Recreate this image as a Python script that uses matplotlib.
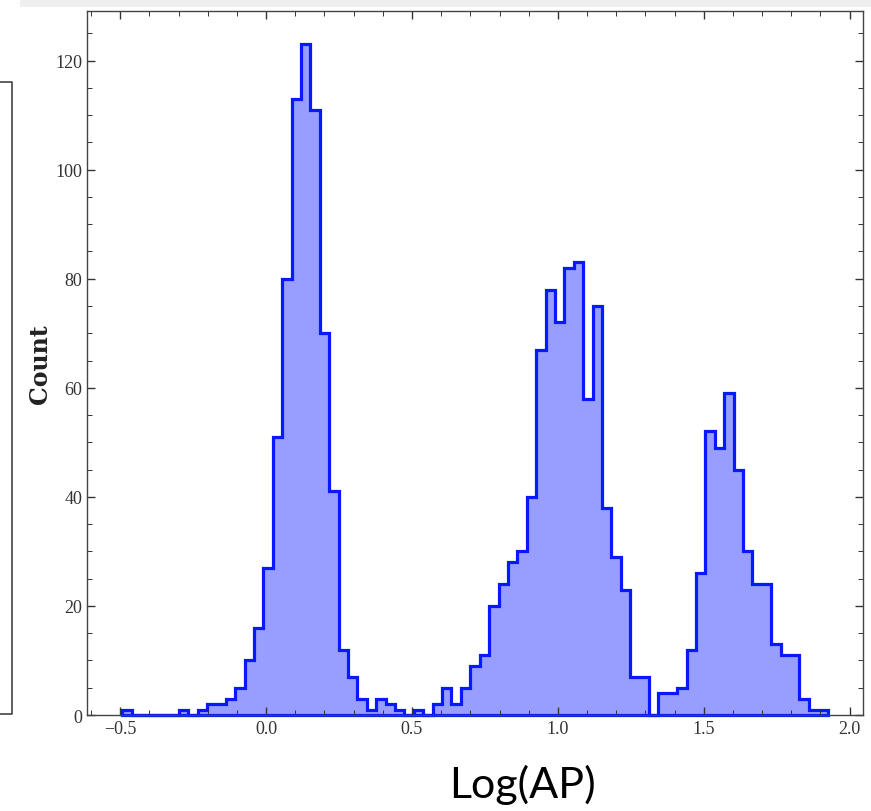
import numpy as np
import matplotlib.pyplot as plt
from matplotlib.ticker import MultipleLocator
from matplotlib.patches import Rectangle
from matplotlib.lines import Line2D

# histogram counts (75 equal bins)
counts = [1, 0, 0, 0, 0, 0, 1, 0, 1, 2,
          2, 3, 5, 10, 16, 27, 51, 80, 113, 123,
          111, 70, 41, 12, 7, 3, 1, 3, 2, 1,
          0, 1, 0, 2, 5, 2, 5, 9, 11, 20,
          24, 28, 30, 40, 67, 78, 72, 82, 83, 58,
          75, 38, 29, 23, 7, 7, 0, 4, 4, 5,
          12, 26, 52, 49, 59, 45, 30, 24, 24, 13,
          11, 11, 3, 1, 1]
bin_lo = -0.493
bin_hi = 1.925
n_bins = len(counts)
edges = np.linspace(bin_lo, bin_hi, n_bins + 1)
centers = (edges[:-1] + edges[1:]) / 2

xticks = [-0.5, 0.0, 0.5, 1.0, 1.5, 2.0]
yticks = [0, 20, 40, 60, 80, 100, 120]

fig = plt.figure(figsize=(8.71, 8.12), dpi=100)
ax = fig.add_axes([0.0999, 0.1182, 0.8909, 0.8674])

ax.hist(centers, bins=edges, weights=counts, histtype='stepfilled',
        facecolor='#989eff', edgecolor='#0818ff', linewidth=2.3, clip_on=False)

ax.set_xlim(-0.614, 2.046)
ax.set_ylim(0, 129.15)
ax.set_xticks(xticks)
ax.set_yticks(yticks)
ax.xaxis.set_minor_locator(MultipleLocator(0.1))
ax.yaxis.set_minor_locator(MultipleLocator(5))
ax.tick_params(which='both', direction='in', top=True, right=True, colors='#333333')
ax.tick_params(which='major', length=6, width=1.0, labelsize=13)
ax.tick_params(which='minor', length=3.5, width=0.7)
for lab in ax.get_xticklabels() + ax.get_yticklabels():
    lab.set_family('Liberation Serif')
for sp in ax.spines.values():
    sp.set_color('#444444')
    sp.set_linewidth(1.0)

ax.set_ylabel('Count', family='DejaVu Serif', fontsize=17, fontweight='bold',
              color='#222222', labelpad=2)

# big label pasted under the chart
fig.text(0.5995, 0.033, 'Log(AP)', family='Lato', fontsize=31, ha='center', va='center')

# light strip along the top and the edge of the neighbouring panel
fig.patches.append(Rectangle((0.023, 0.990), 0.977, 0.010, transform=fig.transFigure,
                             facecolor='#efefef', edgecolor='none'))
fig.lines.append(Line2D([0.0, 0.0138, 0.0138, 0.0], [0.8978, 0.8978, 0.1195, 0.1195],
                        transform=fig.transFigure, color='#444444', lw=1.2))

fig.savefig('out.png', dpi=100)
